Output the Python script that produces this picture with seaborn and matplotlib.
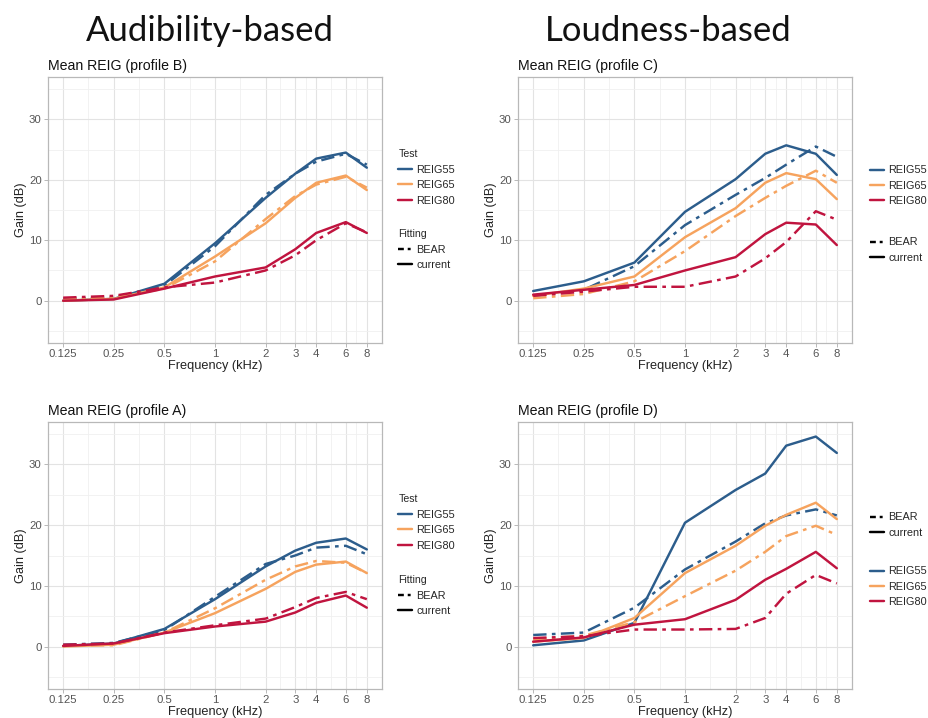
import numpy as np
import pandas as pd
import matplotlib.pyplot as plt
from matplotlib.lines import Line2D
from matplotlib.ticker import NullFormatter
import seaborn as sns

freqs = [0.125, 0.25, 0.5, 1, 2, 3, 4, 6, 8]
freq_labels = ["0.125", "0.25", "0.5", "1", "2", "3", "4", "6", "8"]
tests = ["REIG55", "REIG65", "REIG80"]

# profile B (audibility-based)
b_current = {
    "REIG55": [0.0, 0.3, 2.8, 9.5, 17.0, 21.0, 23.5, 24.5, 22.0],
    "REIG65": [0.0, 0.3, 2.2, 7.3, 12.8, 17.0, 19.5, 20.7, 18.3],
    "REIG80": [0.0, 0.2, 2.0, 4.0, 5.5, 8.5, 11.2, 13.0, 11.2],
}
b_bear = {
    "REIG55": [0.3, 0.5, 2.5, 9.0, 17.5, 21.0, 23.0, 24.3, 22.5],
    "REIG65": [0.2, 0.5, 2.0, 6.5, 13.5, 17.3, 19.2, 20.5, 18.7],
    "REIG80": [0.5, 0.8, 2.2, 3.0, 5.0, 7.5, 10.0, 12.8, 11.3],
}

# profile C (loudness-based)
c_current = {
    "REIG55": [1.6, 3.2, 6.3, 14.7, 20.1, 24.3, 25.7, 24.3, 20.8],
    "REIG65": [0.8, 2.0, 4.0, 10.5, 15.3, 19.5, 21.1, 20.1, 16.8],
    "REIG80": [1.0, 1.8, 2.6, 5.0, 7.2, 11.0, 12.9, 12.6, 9.2],
}
c_bear = {
    "REIG55": [0.8, 1.8, 5.7, 12.5, 17.5, 20.3, 22.5, 25.5, 23.8],
    "REIG65": [0.4, 1.1, 3.2, 8.2, 14.0, 17.0, 19.0, 21.5, 19.5],
    "REIG80": [0.8, 1.5, 2.3, 2.3, 4.0, 7.0, 9.7, 14.8, 13.4],
}

# profile A (audibility-based)
a_current = {
    "REIG55": [0.1, 0.5, 2.9, 7.8, 13.2, 15.8, 17.1, 17.8, 16.0],
    "REIG65": [0.0, 0.3, 2.3, 5.5, 9.5, 12.3, 13.5, 14.0, 12.1],
    "REIG80": [0.1, 0.5, 2.2, 3.3, 4.1, 5.6, 7.2, 8.4, 6.4],
}
a_bear = {
    "REIG55": [0.3, 0.6, 2.7, 8.2, 13.6, 15.0, 16.3, 16.6, 15.2],
    "REIG65": [0.2, 0.2, 2.3, 6.3, 11.0, 13.2, 14.1, 13.8, 12.1],
    "REIG80": [0.3, 0.5, 2.3, 3.5, 4.6, 6.5, 8.0, 9.0, 7.8],
}

# profile D (loudness-based)
d_current = {
    "REIG55": [0.2, 1.0, 3.9, 20.4, 25.8, 28.5, 33.1, 34.6, 31.9],
    "REIG65": [0.8, 1.4, 4.7, 12.1, 16.6, 19.9, 21.7, 23.7, 21.0],
    "REIG80": [0.8, 1.5, 3.6, 4.5, 7.7, 11.0, 12.8, 15.6, 12.9],
}
d_bear = {
    "REIG55": [1.9, 2.3, 6.4, 12.7, 17.3, 20.3, 21.6, 22.6, 21.6],
    "REIG65": [1.2, 1.8, 4.0, 8.3, 12.5, 15.6, 18.2, 19.9, 18.4],
    "REIG80": [1.4, 1.7, 2.8, 2.8, 2.9, 4.7, 8.7, 11.8, 10.4],
}

colors = {"REIG55": "#2C5D8C", "REIG65": "#F6A35E", "REIG80": "#C0143F"}
bear_dash = (5.5, 2.2, 1.5, 2.2)
key_dash = (2.4, 1.6, 1.2, 1.6)
LW = 1.75


def make_df(current, bear):
    rows = []
    for fit, d in [("BEAR", bear), ("current", current)]:
        for t in tests:
            for f, v in zip(freqs, d[t]):
                rows.append({"Frequency": f, "Gain": v, "Test": t, "Fitting": fit})
    return pd.DataFrame(rows)


sns.set_theme(style="white")
plt.rcParams["font.family"] = ["Liberation Sans", "DejaVu Sans"]

fig = plt.figure(figsize=(9.29, 7.18), dpi=100)
W, H = 929, 718


def rect(x0, y0, x1, y1):
    return [x0 / W, 1 - y1 / H, (x1 - x0) / W, (y1 - y0) / H]


def fig_pt(x, y):
    return (x / W, 1 - y / H)


test_handles = [Line2D([], [], color=colors[t], lw=LW) for t in tests]
fit_handles = [Line2D([], [], color="black", lw=LW, dashes=key_dash),
               Line2D([], [], color="black", lw=LW)]

panels = [
    ("Mean REIG (profile B)", make_df(b_current, b_bear), rect(48, 77, 382, 343), True, 393, 144, 224),
    ("Mean REIG (profile C)", make_df(c_current, c_bear), rect(518, 77, 852, 343), False, 865, 160, 232),
    ("Mean REIG (profile A)", make_df(a_current, a_bear), rect(48, 422, 382, 689), True, 393, 489, 570),
    ("Mean REIG (profile D)", make_df(d_current, d_bear), rect(518, 422, 852, 689), False, 865, 561, 507),
]

minor_x = [np.sqrt(a * b) for a, b in zip(freqs[:-1], freqs[1:])]

for title, df, r, titled, lx, ty, fy in panels:
    ax = fig.add_axes(r)
    sns.lineplot(data=df, x="Frequency", y="Gain", hue="Test", style="Fitting",
                 hue_order=tests, palette=colors, style_order=["BEAR", "current"],
                 dashes={"BEAR": bear_dash, "current": ""}, linewidth=LW,
                 legend=False, ax=ax)
    ax.set_xscale("log", base=2)
    ax.set_xlim(2 ** -3.3, 2 ** 3.3)
    ax.set_ylim(-7, 37)
    ax.set_xticks(freqs)
    ax.set_xticklabels(freq_labels)
    ax.set_xticks(minor_x, minor=True)
    ax.xaxis.set_minor_formatter(NullFormatter())
    ax.set_yticks([0, 10, 20, 30])
    ax.set_yticks([-5, 5, 15, 25, 35], minor=True)
    ax.yaxis.set_minor_formatter(NullFormatter())
    ax.grid(True, which="major", color="#E3E3E3", lw=0.8)
    ax.grid(True, which="minor", color="#F0F0F0", lw=0.6)
    ax.set_axisbelow(True)
    for s in ax.spines.values():
        s.set_color("#B8B8B8")
        s.set_linewidth(0.9)
    ax.tick_params(which="major", length=3, width=0.7, color="#B8B8B8",
                   labelsize=8.2, labelcolor="#555555", pad=1.5, bottom=True, left=True)
    ax.tick_params(which="minor", length=0)
    ax.set_xlabel("Frequency (kHz)", fontsize=9.2, color="#222222")
    ax.set_ylabel("Gain (dB)", fontsize=9.2, color="#222222")
    ax.xaxis.set_label_coords(0.5, -0.063)
    ax.yaxis.set_label_coords(-0.064, 0.5)
    ax.set_title(title, loc="left", fontsize=10.2, color="#111111", pad=5)

    leg_kw = dict(loc="upper left", bbox_transform=fig.transFigure, frameon=False,
                  fontsize=7.8, title_fontsize=7.6, handlelength=1.25, handletextpad=0.4,
                  labelspacing=0.5, borderpad=0, alignment="left")
    tl = ax.legend(handles=test_handles, labels=tests,
                   title="Test" if titled else None,
                   bbox_to_anchor=fig_pt(lx, ty), **leg_kw)
    ax.add_artist(tl)
    ax.legend(handles=fit_handles, labels=["BEAR", "current"],
              title="Fitting" if titled else None,
              bbox_to_anchor=fig_pt(lx, fy), **leg_kw)

fig.text(210 / W, 1 - 31 / H, "Audibility-based", fontsize=25, family=["Lato", "DejaVu Sans"],
         ha="center", va="center", color="#111111")
fig.text(668 / W, 1 - 31 / H, "Loudness-based", fontsize=25, family=["Lato", "DejaVu Sans"],
         ha="center", va="center", color="#111111")

fig.savefig("out.png", dpi=100, facecolor="white")
